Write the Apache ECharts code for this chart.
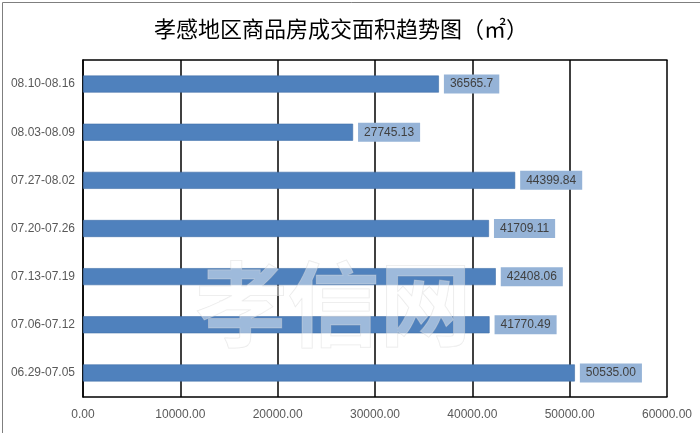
<!DOCTYPE html>
<html><head><meta charset="utf-8">
<script src="https://cdn.jsdelivr.net/npm/echarts@6/dist/echarts.min.js"></script>
<style>html,body{margin:0;padding:0;background:#fff}#c{width:700px;height:433px}</style>
</head><body><div id="c"></div>
<script>
const categories = ['06.29-07.05','07.06-07.12','07.13-07.19','07.20-07.26','07.27-08.02','08.03-08.09','08.10-08.16'];
const values = [50535.00, 41770.49, 42408.06, 41709.11, 44399.84, 27745.13, 36565.7];
const valueLabels = ['50535.00','41770.49','42408.06','41709.11','44399.84','27745.13','36565.7'];
const xTicks = { min: 0, max: 60000, interval: 10000 };

const chart = echarts.init(document.getElementById('c'));
chart.setOption({
  animation: false,
  backgroundColor: '#fff',
  title: {
    text: '孝感地区商品房成交面积趋势图（㎡）',
    left: 336, top: 13, textAlign: 'center',
    textStyle: { fontFamily: 'Noto Sans CJK SC', fontSize: 22, fontWeight: 'normal', color: '#000' }
  },
  grid: { left: 83, right: 33, top: 60, bottom: 36, containLabel: false },
  xAxis: [{
    type: 'value', min: xTicks.min, max: xTicks.max, interval: xTicks.interval,
    axisLine: { show: true, lineStyle: { color: '#000', width: 1.5 } },
    axisTick: { show: false },
    splitLine: { show: true, lineStyle: { color: '#000', width: 1.5 } },
    axisLabel: { formatter: v => v.toFixed(2), color: '#595959', fontSize: 12, fontFamily: 'Liberation Sans', margin: 12 }
  }, {
    type: 'value', position: 'top', min: xTicks.min, max: xTicks.max, interval: xTicks.interval,
    axisLine: { show: true, lineStyle: { color: '#000', width: 1.5 } },
    axisTick: { show: false }, axisLabel: { show: false }, splitLine: { show: false }
  }],
  yAxis: {
    type: 'category', data: categories,
    axisLine: { show: true, lineStyle: { color: '#000', width: 1.5 } },
    axisTick: { show: false },
    axisLabel: { color: '#595959', fontSize: 12, fontFamily: 'Liberation Sans', margin: 8 }
  },
  series: [{
    type: 'bar', data: values, barWidth: 17, xAxisIndex: 0,
    itemStyle: { color: '#4F81BD', borderColor: '#3F6FA8', borderWidth: 0.6 },
    label: {
      show: true, position: 'right', distance: 5,
      formatter: p => valueLabels[p.dataIndex],
      backgroundColor: '#95B3D7', color: '#404040', fontSize: 12, fontFamily: 'Liberation Sans',
      padding: [4, 6, 3, 6]
    },
    z: 2
  }],
  graphic: [
    { type: 'rect', left: 0, top: 0, shape: { width: 699, height: 432 }, style: { fill: 'none', stroke: '#7f7f7f', lineWidth: 1 }, silent: true },
    { type: 'text', left: 195, top: 258, z: 100, silent: true,
      style: { text: '孝信网', font: 'bold 92px "Noto Sans CJK SC"', fill: 'rgba(255,255,255,0.45)', stroke: 'rgba(200,200,200,0.4)', lineWidth: 1 } }
  ]
});
</script></body></html>
